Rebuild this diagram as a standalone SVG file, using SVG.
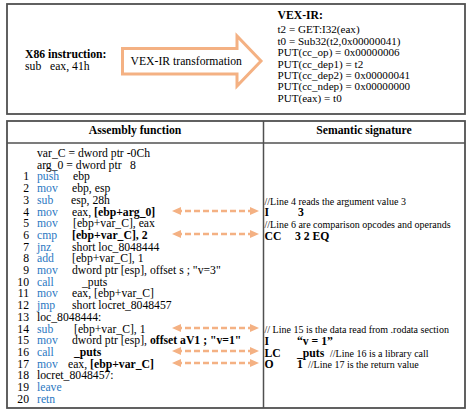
<svg xmlns="http://www.w3.org/2000/svg" width="470" height="415" viewBox="0 0 470 415">
<style>
text{font-family:"Liberation Serif","Times New Roman",serif;font-size:11.7px;fill:#000}
.b{font-weight:bold}
.m{fill:#2a78c2}
.c{font-size:10px}
.v{font-size:11.1px}
.frame{fill:#fff;stroke:#505050;stroke-width:1.8}
.grid{stroke:#505050;stroke-width:1.5;fill:none}
.dash{stroke:#f4b183;stroke-width:2.6;stroke-dasharray:6 3;fill:none;marker-start:url(#ah);marker-end:url(#ah)}
</style>
<defs>
<marker id="ah" viewBox="0 0 9 8" markerWidth="9" markerHeight="8" refX="5" refY="4" orient="auto-start-reverse" markerUnits="userSpaceOnUse">
<path d="M0,0 L9,4 L0,8 Z" fill="#f4b183"/>
</marker>
</defs>
<rect width="470" height="415" fill="#fff"/>

<g id="top-box">
<rect class="frame" x="7" y="4" width="458" height="110"/>
</g>
<g id="x86-instruction">
<text class="b" x="25" y="58">X86 instruction:</text>
<text x="25" y="69.5">sub</text>
<text x="50" y="69.5">eax, 41h</text>
</g>
<g id="vex-transform">
<path d="M122.5,48.5 L237,48.5 L237,36 L261,61 L237,86 L237,74 L122.5,74 Z" fill="#fff" stroke="#f4b183" stroke-width="3" stroke-linejoin="miter"/>
<text x="130.5" y="65">VEX-IR transformation</text>
</g>
<g id="vex-ir">
<text class="b" x="277.5" y="19">VEX-IR:</text>
<text class="v" x="277.5" y="33.3">t2 = GET:I32(eax)</text>
<text class="v" x="277.5" y="44.7">t0 = Sub32(t2,0x00000041)</text>
<text class="v" x="277.5" y="56.1">PUT(cc_op) = 0x00000006</text>
<text class="v" x="277.5" y="67.5">PUT(cc_dep1) = t2</text>
<text class="v" x="277.5" y="78.9">PUT(cc_dep2) = 0x00000041</text>
<text class="v" x="277.5" y="90.3">PUT(cc_ndep) = 0x00000000</text>
<text class="v" x="277.5" y="101.7">PUT(eax) = t0</text>
</g>

<g id="table">
<rect class="frame" x="7" y="121" width="458" height="287"/>
<line class="grid" x1="7" y1="143" x2="465" y2="143"/>
<line class="grid" x1="263.5" y1="121" x2="263.5" y2="408"/>
<text class="b" x="135" y="134" text-anchor="middle">Assembly function</text>
<text class="b" x="364" y="134" text-anchor="middle">Semantic signature</text>
</g>

<g id="assembly">
<text x="37" y="157">var_C = dword ptr -0Ch</text>
<text x="37" y="168.7">arg_0 = dword ptr</text><text x="130" y="168.7">8</text>
<g text-anchor="end">
<text x="29" y="180.4">1</text>
<text x="29" y="192.1">2</text>
<text x="29" y="203.8">3</text>
<text x="29" y="215.5">4</text>
<text x="29" y="227.2">5</text>
<text x="29" y="238.9">6</text>
<text x="29" y="250.6">7</text>
<text x="29" y="262.3">8</text>
<text x="29" y="274">9</text>
<text x="29" y="285.7">10</text>
<text x="29" y="297.4">11</text>
<text x="29" y="309.1">12</text>
<text x="29" y="320.8">13</text>
<text x="29" y="332.5">14</text>
<text x="29" y="344.2">15</text>
<text x="29" y="355.9">16</text>
<text x="29" y="367.6">17</text>
<text x="29" y="379.3">18</text>
<text x="29" y="391">19</text>
<text x="29" y="402.7">20</text>
</g>
<text class="m" x="37" y="180.4">push</text><text x="73" y="180.4">ebp</text>
<text class="m" x="37" y="192.1">mov</text><text x="72" y="192.1">ebp, esp</text>
<text class="m" x="37" y="203.8">sub</text><text x="71" y="203.8">esp, 28h</text>
<text class="m" x="37" y="215.5">mov</text><text x="72" y="215.5">eax, <tspan class="b">[ebp+arg_0]</tspan></text>
<text class="m" x="37" y="227.2">mov</text><text x="73" y="227.2">[ebp+var_C], eax</text>
<text class="m" x="37" y="238.9">cmp</text><text class="b" x="72" y="238.9">[ebp+var_C], 2</text>
<text class="m" x="37" y="250.6">jnz</text><text x="72" y="250.6">short loc_8048444</text>
<text class="m" x="37" y="262.3">add</text><text x="72" y="262.3">[ebp+var_C], 1</text>
<text class="m" x="37" y="274">mov</text><text x="72" y="274">dword ptr [esp], offset s ; "v=3"</text>
<text class="m" x="37" y="285.7">call</text><text x="82" y="285.7">_puts</text>
<text class="m" x="37" y="297.4">mov</text><text x="72" y="297.4">eax, [ebp+var_C]</text>
<text class="m" x="37" y="309.1">jmp</text><text x="72" y="309.1">short locret_8048457</text>
<text x="37" y="320.8">loc_8048444:</text>
<text class="m" x="37" y="332.5">sub</text><text x="74" y="332.5">[ebp+var_C], 1</text>
<text class="m" x="37" y="344.2">mov</text><text x="72" y="344.2">dword ptr [esp], <tspan class="b">offset aV1 ; "v=1"</tspan></text>
<text class="m" x="37" y="355.9">call</text><text class="b" x="74" y="355.9">_puts</text>
<text class="m" x="37" y="367.6">mov</text><text x="68" y="367.6">eax, <tspan class="b">[ebp+var_C]</tspan></text>
<text x="37" y="379.3">locret_8048457:</text>
<text class="m" x="37" y="391">leave</text>
<text class="m" x="37" y="402.7">retn</text>
</g>

<g id="signature">
<text class="c" x="264.5" y="204.5">//Line 4 reads the argument value 3</text>
<text class="b" x="264.5" y="215.5">I</text><text class="b" x="298" y="215.5">3</text>
<text class="c" x="264.5" y="228">//Line 6 are comparison opcodes and operands</text>
<text class="b" x="264.5" y="239.5">CC</text><text class="b" x="295" y="239.5">3 2 EQ</text>
<text class="c" x="264.5" y="332.5">// Line 15 is the data read from .rodata section</text>
<text class="b" x="264.5" y="345">I</text><text class="b" x="297" y="345">“v = 1”</text>
<text class="b" x="264.5" y="356.5">LC</text><text class="b" x="297" y="356.5">_puts</text><text class="c" x="330" y="356.5">//Line 16 is a library call</text>
<text class="b" x="264.5" y="368">O</text><text class="b" x="297" y="368">1</text><text class="c" x="308" y="368">//Line 17  is the return value</text>
</g>

<g id="connectors">
<line class="dash" x1="176" y1="211" x2="255" y2="211"/>
<line class="dash" x1="176" y1="234" x2="255" y2="234"/>
<line class="dash" x1="176" y1="328" x2="255" y2="328"/>
<line class="dash" x1="176" y1="351" x2="255" y2="351"/>
<line class="dash" x1="176" y1="363" x2="255" y2="363"/>
</g>
</svg>
